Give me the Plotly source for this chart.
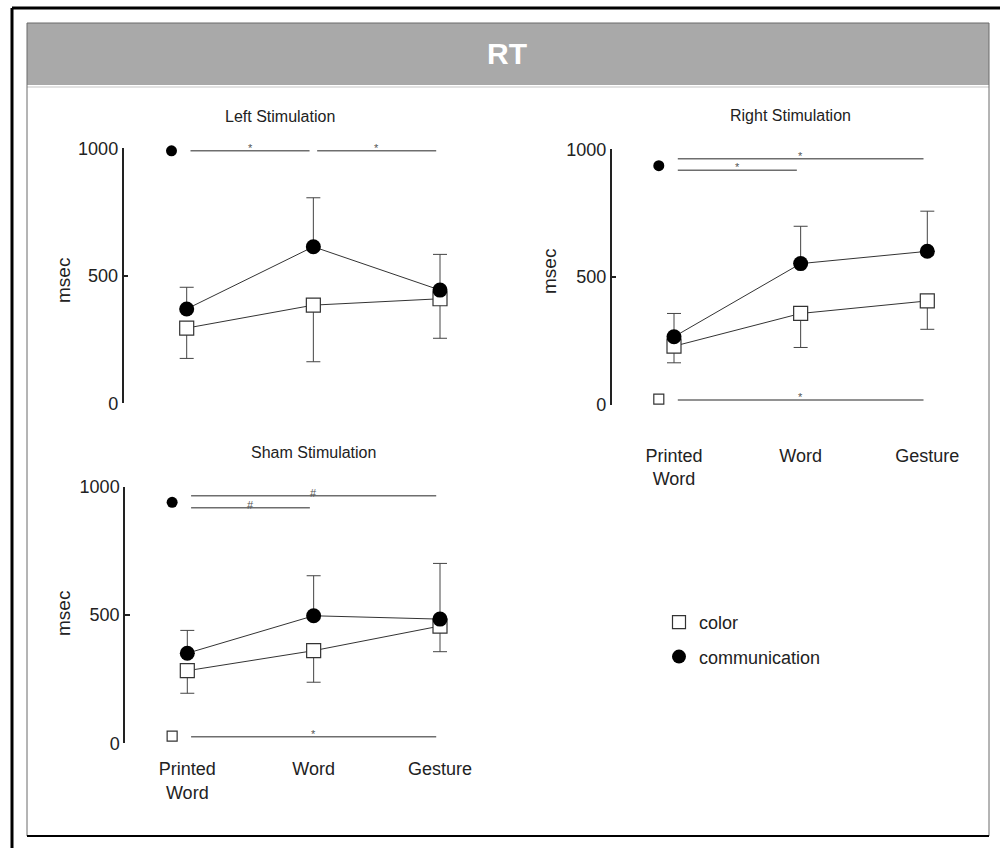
import plotly.graph_objects as go

# ---------------------------------------------------------------- data
categories = ["Printed<br>Word", "Word", "Gesture"]

left_comm_mean = [370, 614, 444]
left_comm_sd = [85, 192, 140]
left_color_mean = [295, 385, 410]
left_color_sd = [119, 222, 155]

right_comm_mean = [267, 553, 601]
right_comm_sd = [91, 146, 157]
right_color_mean = [230, 358, 407]
right_color_sd = [65, 133, 111]

sham_comm_mean = [351, 497, 484]
sham_comm_sd = [89, 156, 217]
sham_color_mean = [283, 361, 457]
sham_color_sd = [88, 123, 100]

# pairwise comparisons: (first category, second category, level in msec, mark)
left_comm_tests = [(0, 1, 990, "*"), (1, 2, 990, "*")]
left_color_tests = []
right_comm_tests = [(0, 2, 963, "*"), (0, 1, 918, "*")]
right_color_tests = [(0, 2, 20, "*")]
sham_comm_tests = [(0, 2, 965, "#"), (0, 1, 918, "#")]
sham_color_tests = [(0, 2, 26, "*")]

# level of the small group symbol in front of each set of comparisons
left_flag = {"comm": 990, "color": None}
right_flag = {"comm": 936, "color": 23}
sham_flag = {"comm": 939, "color": 28}

# ---------------------------------------------------------------- layout helpers
W, H = 1000, 848
FONT = "Liberation Sans, Arial, Helvetica, sans-serif"
LINE = "#333333"
SIG = "#6e6e6e"


def px(xp):
    return xp / W


def py(yp):
    return 1 - yp / H


def x_axis_geometry(axis_px, first_px, last_px, right_px):
    unit = (last_px - first_px) / 2.0
    lo = -(first_px - axis_px) / unit
    hi = 2 + (right_px - last_px) / unit
    return [px(axis_px), px(right_px)], [lo, hi]


panels = [
    dict(suffix="", title="Left Stimulation", title_xy=(280, 116), msec_xy=(63, 281),
         xgeo=x_axis_geometry(123.5, 186.7, 440, 470), ydom=(148.3, 403.3),
         comm=(left_comm_mean, left_comm_sd), color=(left_color_mean, left_color_sd),
         tests=(left_comm_tests, left_color_tests), flag=left_flag, labels=False, standoff=0),
    dict(suffix="2", title="Right Stimulation", title_xy=(790, 115), msec_xy=(550, 272),
         xgeo=x_axis_geometry(611.7, 674, 927.3, 960), ydom=(149.3, 405),
         comm=(right_comm_mean, right_comm_sd), color=(right_color_mean, right_color_sd),
         tests=(right_comm_tests, right_color_tests), flag=right_flag, labels=True, standoff=38),
    dict(suffix="3", title="Sham Stimulation", title_xy=(313, 452), msec_xy=(63, 614),
         xgeo=x_axis_geometry(125, 187.3, 440, 470), ydom=(486.7, 743.3),
         comm=(sham_comm_mean, sham_comm_sd), color=(sham_color_mean, sham_color_sd),
         tests=(sham_comm_tests, sham_color_tests), flag=sham_flag, labels=True, standoff=13),
]

fig = go.Figure()
annotations = []
xs = [0, 1, 2]
inset = 0.03
flag_x = -0.12


def paper_text(x, y, text, size, **kw):
    return dict(x=px(x), y=py(y), xref="paper", yref="paper", xanchor="center",
                yanchor="middle", text=text, showarrow=False,
                font=dict(family=FONT, size=size, color=kw.pop("color", "#222222")), **kw)


for p in panels:
    xa = "x" + p["suffix"]
    ya = "y" + p["suffix"]
    cm, cs = p["color"]
    mm, ms = p["comm"]

    # color condition: open squares, error bars downward
    fig.add_trace(go.Scatter(
        x=xs, y=cm, xaxis=xa, yaxis=ya, mode="lines+markers", showlegend=False,
        cliponaxis=False, line=dict(color=LINE, width=1),
        marker=dict(symbol="square", size=14, color="white", line=dict(color=LINE, width=1.2)),
        error_y=dict(type="data", symmetric=False, array=[0, 0, 0], arrayminus=cs,
                     color="#444444", thickness=1, width=7)))
    # communication condition: filled circles, error bars upward
    fig.add_trace(go.Scatter(
        x=xs, y=mm, xaxis=xa, yaxis=ya, mode="lines+markers", showlegend=False,
        cliponaxis=False, line=dict(color=LINE, width=1),
        marker=dict(symbol="circle", size=15, color="black"),
        error_y=dict(type="data", symmetric=False, array=ms, arrayminus=[0, 0, 0],
                     color="#444444", thickness=1, width=7)))

    # significance bars
    comm_tests, color_tests = p["tests"]
    for a, b, lvl, mark in comm_tests + color_tests:
        fig.add_trace(go.Scatter(
            x=[a + inset, b - inset], y=[lvl, lvl], xaxis=xa, yaxis=ya, mode="lines",
            showlegend=False, cliponaxis=False, line=dict(color=SIG, width=1.5)))
        annotations.append(dict(
            x=(a + b) / 2, y=lvl, xref=xa, yref=ya, xanchor="center", yanchor="middle",
            text=mark, showarrow=False, yshift=3,
            font=dict(family=FONT, size=11, color="#555555")))
    if p["flag"]["comm"] is not None:
        fig.add_trace(go.Scatter(
            x=[flag_x], y=[p["flag"]["comm"]], xaxis=xa, yaxis=ya, mode="markers",
            showlegend=False, cliponaxis=False,
            marker=dict(symbol="circle", size=11, color="black")))
    if p["flag"]["color"] is not None:
        fig.add_trace(go.Scatter(
            x=[flag_x], y=[p["flag"]["color"]], xaxis=xa, yaxis=ya, mode="markers",
            showlegend=False, cliponaxis=False,
            marker=dict(symbol="square", size=10, color="white", line=dict(color=LINE, width=1.2))))

    xdom, xrng = p["xgeo"]
    fig.layout["xaxis" + p["suffix"]] = dict(
        domain=xdom, range=xrng, anchor=ya, tickvals=xs, ticktext=categories,
        showticklabels=p["labels"], ticks="", showline=False, showgrid=False,
        zeroline=False, ticklabelstandoff=p["standoff"], automargin=False,
        tickfont=dict(family=FONT, size=18, color="#222222"))
    fig.layout["yaxis" + p["suffix"]] = dict(
        domain=[py(p["ydom"][1]), py(p["ydom"][0])], range=[0, 1000], anchor=xa,
        tickvals=[0, 500, 1000], showline=True, linecolor="#222222", linewidth=1.5,
        ticks="inside", ticklen=5, tickwidth=1.5, tickcolor="#222222",
        showgrid=False, zeroline=False, automargin=False,
        tickfont=dict(family=FONT, size=18, color="#222222"))

    annotations.append(paper_text(*p["title_xy"], p["title"], 16))
    annotations.append(paper_text(*p["msec_xy"], "msec", 19, textangle=-90))

# legend entries
fig.add_trace(go.Scatter(
    x=[None], y=[None], mode="markers", name="color", legendgroup="a",
    marker=dict(symbol="square", size=13, color="white", line=dict(color=LINE, width=1.2))))
fig.add_trace(go.Scatter(
    x=[None], y=[None], mode="markers", name="communication", legendgroup="b",
    marker=dict(symbol="circle", size=14, color="black")))

# header title
annotations.append(paper_text(507, 53, "<b>RT</b>", 30, color="white"))

shapes = [
    # header band
    dict(type="rect", xref="paper", yref="paper", x0=px(27), x1=px(989), y0=py(85), y1=py(23),
         fillcolor="#a9a9a9", line=dict(width=0), layer="below"),
    dict(type="line", xref="paper", yref="paper", x0=px(27), x1=px(989), y0=py(87), y1=py(87),
         line=dict(color="#e2e2e2", width=2)),
    # panel frame
    dict(type="rect", xref="paper", yref="paper", x0=px(27), x1=px(989), y0=py(836), y1=py(23),
         line=dict(color="#6a6a6a", width=1)),
    dict(type="line", xref="paper", yref="paper", x0=px(27), x1=px(989), y0=py(836), y1=py(836),
         line=dict(color="black", width=2)),
    # outer rule
    dict(type="line", xref="paper", yref="paper", x0=px(12), x1=px(1000), y0=py(8), y1=py(8),
         line=dict(color="black", width=3)),
    dict(type="line", xref="paper", yref="paper", x0=px(12), x1=px(12), y0=py(8), y1=py(848),
         line=dict(color="black", width=3)),
]

fig.update_layout(
    width=W, height=H, margin=dict(l=0, r=0, t=0, b=0, pad=0, autoexpand=False),
    paper_bgcolor="white", plot_bgcolor="rgba(0,0,0,0)",
    font=dict(family=FONT, color="#222222"),
    showlegend=True,
    legend=dict(x=px(659), y=py(604), xanchor="left", yanchor="top",
                bgcolor="rgba(0,0,0,0)", font=dict(family=FONT, size=18, color="#222222"),
                traceorder="grouped", tracegroupgap=8, itemsizing="trace"),
    annotations=annotations, shapes=shapes,
)

fig.write_html("out.html")
